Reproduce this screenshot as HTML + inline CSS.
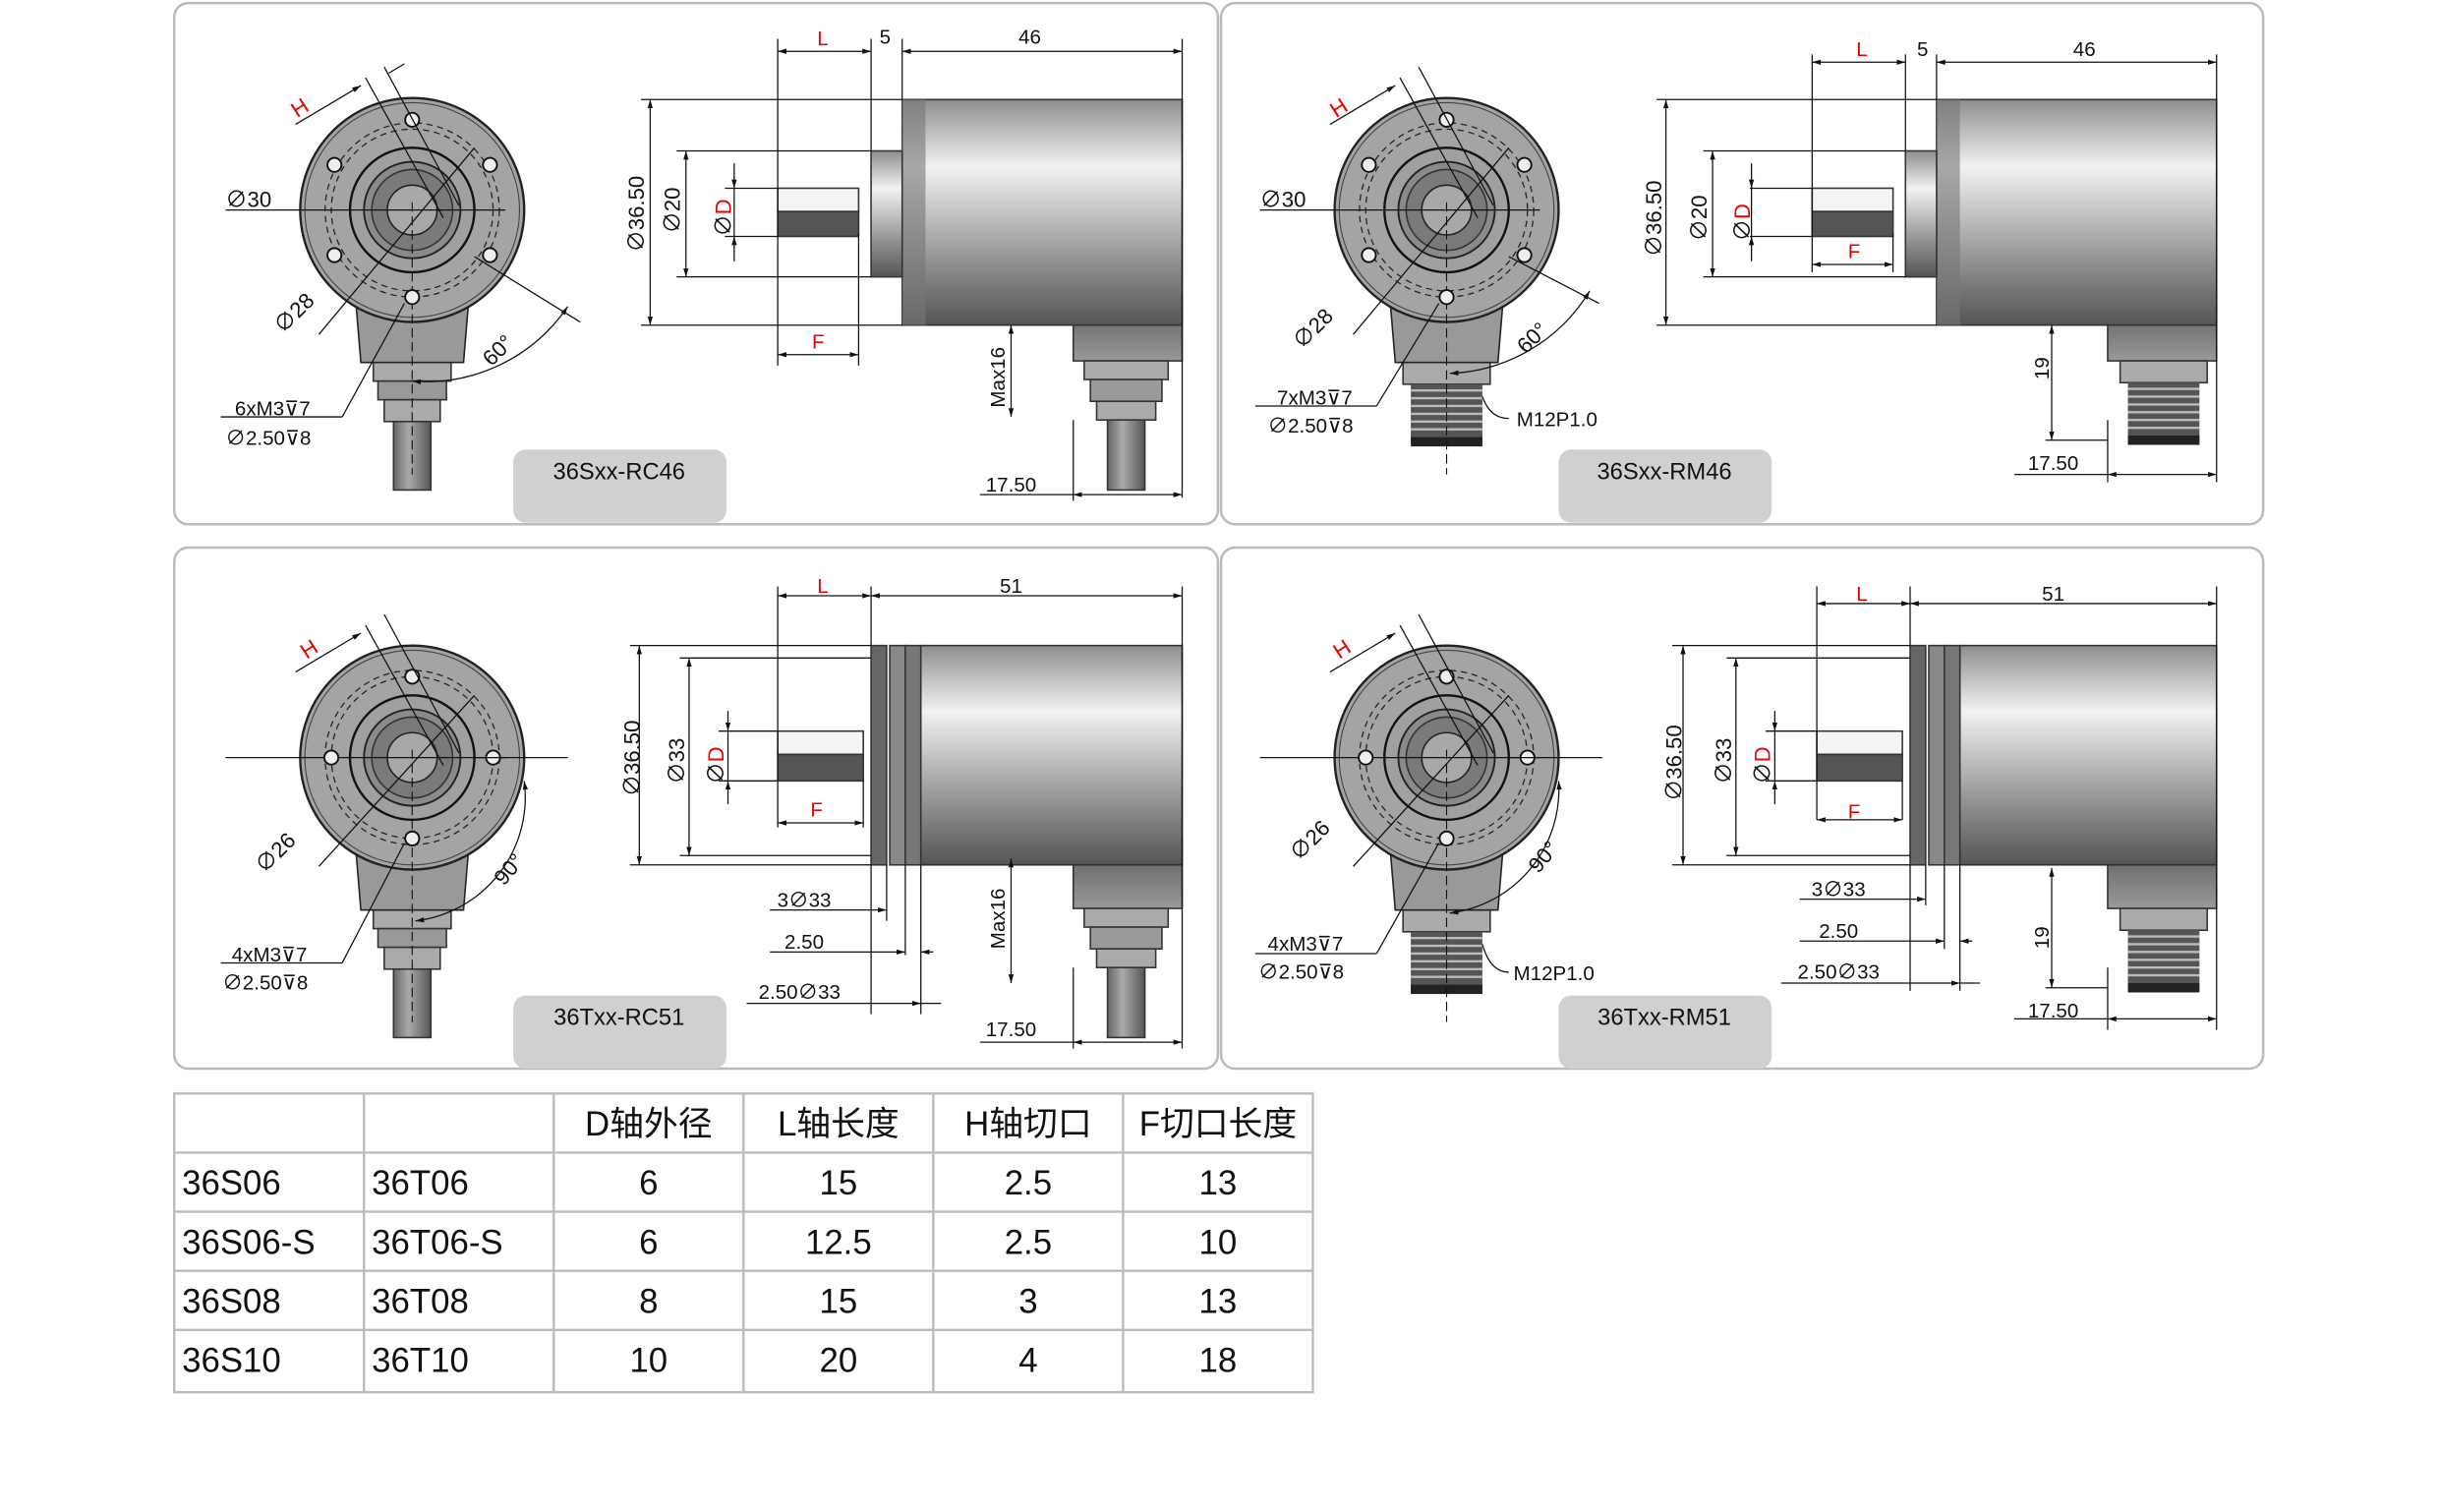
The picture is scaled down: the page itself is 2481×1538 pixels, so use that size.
<!DOCTYPE html>
<html><head><meta charset="utf-8"><style>
html,body{margin:0;padding:0;background:#fff}
svg{display:block}
text{font-family:"Liberation Sans","Noto Sans CJK SC",sans-serif;fill:#111}
</style></head><body>
<svg width="2481" height="1538" viewBox="0 0 1568 972" preserveAspectRatio="none" xmlns="http://www.w3.org/2000/svg">
<defs>
<linearGradient id="bg" x1="0" y1="0" x2="0" y2="1"><stop offset="0" stop-color="#8e8e8e"/><stop offset="0.3" stop-color="#f2f2f2"/><stop offset="0.75" stop-color="#8a8a8a"/><stop offset="1" stop-color="#555"/></linearGradient>
<linearGradient id="dk" x1="0" y1="0" x2="0" y2="1"><stop offset="0" stop-color="#555"/><stop offset="1" stop-color="#999"/></linearGradient>
<linearGradient id="cab" x1="0" y1="0" x2="1" y2="0"><stop offset="0" stop-color="#666"/><stop offset="0.4" stop-color="#aaa"/><stop offset="1" stop-color="#555"/></linearGradient>
<marker id="a" viewBox="0 0 10 10" refX="10" refY="5" markerWidth="7" markerHeight="7" orient="auto-start-reverse"><path d="M0,2 L10,5 L0,8z" fill="#111"/></marker>
<g id="frontBase">
 <path d="M-37,50 L-33,98 L33,98 L37,50z" fill="#999" stroke="#222"/>
 <circle r="72" fill="#a4a4a4" stroke="#222" stroke-width="1.5"/>
 <circle r="69" fill="none" stroke="#444" stroke-width="0.7"/>
 <circle r="52" fill="none" stroke="#222" stroke-dasharray="4,3" stroke-width="0.8"/>
 <circle r="56" fill="none" stroke="#222" stroke-dasharray="4,3" stroke-width="0.8"/>
 <circle r="40" fill="#a0a0a0" stroke="#111" stroke-width="1.5"/>
 <circle r="31" fill="#8a8a8a" stroke="#222" stroke-width="1.2"/>
 <circle r="26" fill="#7a7a7a" stroke="#333"/>
 <circle r="16" fill="#a8a8a8" stroke="#222"/>
 <line x1="-120" y1="0" x2="60" y2="0" stroke="#111" stroke-width="0.8"/>
 <line x1="0" y1="-5" x2="0" y2="170" stroke="#111" stroke-width="0.7" stroke-dasharray="6,3"/>
</g>
<g id="hole"><circle r="4.5" fill="#eee" stroke="#111" stroke-width="1.2"/></g>
<g id="gland">
 <rect x="-25" y="98" width="50" height="12" fill="#aaa" stroke="#333"/>
 <rect x="-22" y="110" width="44" height="12" fill="#999" stroke="#333"/>
 <rect x="-18" y="122" width="36" height="14" fill="#aaa" stroke="#333"/>
 <rect x="-12" y="136" width="24" height="44" fill="url(#cab)" stroke="#333"/>
</g>
<g id="m12">
 <rect x="-28" y="98" width="56" height="14" fill="#aaa" stroke="#333"/>
 <rect x="-23" y="112" width="46" height="38" fill="#555"/>
 <path d="M-23,116h46M-23,121h46M-23,126h46M-23,131h46M-23,136h46M-23,141h46" stroke="#bbb" stroke-width="1.5"/>
 <rect x="-23" y="146" width="46" height="6" fill="#222"/>
</g>
</defs>

<!-- panels -->
<g fill="#fff" stroke="#bbb" stroke-width="1.6">
<rect x="112" y="2" width="671" height="335" rx="9"/>
<rect x="785" y="2" width="670" height="335" rx="9"/>
<rect x="112" y="352" width="671" height="335" rx="9"/>
<rect x="785" y="352" width="670" height="335" rx="9"/>
</g>
<g fill="#d0d0d0">
<rect x="330" y="289" width="137" height="47" rx="8"/>
<rect x="1002" y="289" width="137" height="47" rx="8"/>
<rect x="330" y="640" width="137" height="47" rx="8"/>
<rect x="1002" y="640" width="137" height="47" rx="8"/>
</g>
<g font-size="15" text-anchor="middle">
<text x="398" y="308">36Sxx-RC46</text>
<text x="1070" y="308">36Sxx-RM46</text>
<text x="398" y="659">36Txx-RC51</text>
<text x="1070" y="659">36Txx-RM51</text>
</g>

<!-- ===== PANEL 1 ===== -->
<g id="p1">
<g transform="translate(265,135)">
 <use href="#gland"/>
 <use href="#frontBase"/>
 <use href="#hole" x="0" y="-58"/><use href="#hole" x="50" y="-29"/><use href="#hole" x="50" y="29"/><use href="#hole" x="0" y="56"/><use href="#hole" x="-50" y="29"/><use href="#hole" x="-50" y="-29"/>
 <line x1="-60" y1="80" x2="40" y2="-40" stroke="#111" stroke-width="0.8"/>
 <line x1="40" y1="30" x2="108" y2="72" stroke="#111" stroke-width="0.8"/>
 <path d="M100,62 A110,110 0 0 1 0,110" fill="none" stroke="#111" stroke-width="0.8" marker-start="url(#a)" marker-end="url(#a)"/>
 <line x1="-30" y1="-85" x2="20" y2="5" stroke="#111" stroke-width="0.8"/>
 <line x1="-18" y1="-92" x2="30" y2="-3" stroke="#111" stroke-width="0.8"/>
 <line x1="-75" y1="-55" x2="-33" y2="-80" stroke="#111" stroke-width="0.8" marker-end="url(#a)"/>
 <line x1="-15" y1="-88" x2="-5" y2="-94" stroke="#111" stroke-width="0.8"/>
 <line x1="-45" y1="133" x2="-5" y2="60" stroke="#111" stroke-width="0.8"/>
 <line x1="-123" y1="133" x2="-45" y2="133" stroke="#111" stroke-width="0.8"/>
</g>
<text x="145" y="133" font-size="14">∅30</text>
<text x="0" y="0" font-size="14" transform="translate(182,215) rotate(-45)">∅28</text>
<text x="0" y="0" font-size="14" transform="translate(316,236) rotate(-45)">60°</text>
<text x="0" y="0" font-size="14" fill="#e00" transform="translate(191,76) rotate(-33)" style="fill:#e00">H</text>
<text x="151" y="267" font-size="13">6xM3⊽7</text>
<text x="145" y="286" font-size="13">∅2.50⊽8</text>
<!-- side -->
<rect x="690" y="190" width="70" height="42" fill="url(#dk)" stroke="#333"/>
<g transform="translate(724,134)"><rect x="-27" y="98" width="54" height="12" fill="#aaa" stroke="#333"/><rect x="-23" y="110" width="46" height="14" fill="#999" stroke="#333"/><rect x="-19" y="124" width="38" height="12" fill="#aaa" stroke="#333"/><rect x="-12" y="136" width="24" height="45" fill="url(#cab)" stroke="#333"/></g>
<rect x="580" y="64" width="180" height="145" fill="url(#bg)" stroke="#333"/>
<rect x="580" y="64" width="15" height="145" fill="#777" opacity="0.6"/>
<rect x="560" y="97" width="20" height="81" fill="url(#bg)" stroke="#333"/>
<rect x="500" y="121" width="52" height="15" fill="#f4f4f4" stroke="#333"/>
<rect x="500" y="136" width="52" height="16" fill="#555" stroke="#333"/>
<g stroke="#111" stroke-width="0.8" fill="none">
 <path d="M500,25V235M560,25V97M580,25V64M760,25V320M552,150V235M412,64H580M412,209H580M435,97H560M435,178H560M466,121H500M466,152H500M690,270V322M630,318H690"/>
 <line x1="500" y1="33" x2="560" y2="33" marker-start="url(#a)" marker-end="url(#a)"/>
 <line x1="580" y1="33" x2="760" y2="33" marker-start="url(#a)" marker-end="url(#a)"/>
 <line x1="418" y1="64" x2="418" y2="209" marker-start="url(#a)" marker-end="url(#a)"/>
 <line x1="441" y1="97" x2="441" y2="178" marker-start="url(#a)" marker-end="url(#a)"/>
 <line x1="472" y1="105" x2="472" y2="121" marker-end="url(#a)"/>
 <line x1="472" y1="168" x2="472" y2="152" marker-end="url(#a)"/>
 <line x1="472" y1="121" x2="472" y2="152"/>
 <line x1="500" y1="228" x2="552" y2="228" marker-start="url(#a)" marker-end="url(#a)"/>
 <line x1="650" y1="209" x2="650" y2="268" marker-start="url(#a)" marker-end="url(#a)"/>
 <line x1="690" y1="318" x2="760" y2="318" marker-start="url(#a)" marker-end="url(#a)"/>
</g>
<text x="529" y="29" font-size="13" text-anchor="middle" style="fill:#e00">L</text>
<text x="569" y="28" font-size="13" text-anchor="middle">5</text>
<text x="662" y="28" font-size="13" text-anchor="middle">46</text>
<text x="526" y="224" font-size="13" text-anchor="middle" style="fill:#e00">F</text>
<text font-size="14" transform="translate(414,162) rotate(-90)">∅36.50</text>
<text font-size="14" transform="translate(437,150) rotate(-90)">∅20</text>
<text font-size="14" transform="translate(470,152) rotate(-90)">∅<tspan style="fill:#e00">D</tspan></text>
<text font-size="13" transform="translate(646,262) rotate(-90)">Max16</text>
<text x="650" y="316" font-size="13" text-anchor="middle">17.50</text>
</g>

<!-- ===== PANEL 2 ===== -->
<g transform="translate(665,0)">
<g transform="translate(265,135)">
 <use href="#m12"/>
 <use href="#frontBase"/>
 <use href="#hole" x="0" y="-58"/><use href="#hole" x="50" y="-29"/><use href="#hole" x="50" y="29"/><use href="#hole" x="0" y="56"/><use href="#hole" x="-50" y="29"/><use href="#hole" x="-50" y="-29"/>
 <line x1="-60" y1="80" x2="40" y2="-40" stroke="#111" stroke-width="0.8"/>
 <line x1="40" y1="30" x2="98" y2="60" stroke="#111" stroke-width="0.8"/>
 <path d="M92,52 A110,110 0 0 1 2,105" fill="none" stroke="#111" stroke-width="0.8" marker-start="url(#a)" marker-end="url(#a)"/>
 <line x1="-30" y1="-85" x2="20" y2="5" stroke="#111" stroke-width="0.8"/>
 <line x1="-18" y1="-92" x2="30" y2="-3" stroke="#111" stroke-width="0.8"/>
 <line x1="-75" y1="-55" x2="-33" y2="-80" stroke="#111" stroke-width="0.8" marker-end="url(#a)"/>
 <line x1="-45" y1="126" x2="-5" y2="60" stroke="#111" stroke-width="0.8"/>
 <line x1="-123" y1="126" x2="-45" y2="126" stroke="#111" stroke-width="0.8"/>
 <path d="M23,120 Q28,134 40,134" fill="none" stroke="#111" stroke-width="0.8"/>
</g>
<text x="145" y="133" font-size="14">∅30</text>
<text font-size="14" transform="translate(172,225) rotate(-45)">∅28</text>
<text font-size="14" transform="translate(316,228) rotate(-45)">60°</text>
<text font-size="14" transform="translate(194,76) rotate(-33)" style="fill:#e00">H</text>
<text x="156" y="260" font-size="13">7xM3⊽7</text>
<text x="150" y="278" font-size="13">∅2.50⊽8</text>
<text x="310" y="274" font-size="13">M12P1.0</text>
<rect x="690" y="190" width="70" height="42" fill="url(#dk)" stroke="#333"/>
<g transform="translate(726,134)"><use href="#m12"/></g>
<rect x="580" y="64" width="180" height="145" fill="url(#bg)" stroke="#333"/>
<rect x="580" y="64" width="15" height="145" fill="#777" opacity="0.6"/>
<rect x="560" y="97" width="20" height="81" fill="url(#bg)" stroke="#333"/>
<rect x="500" y="121" width="52" height="15" fill="#f4f4f4" stroke="#333"/>
<rect x="500" y="136" width="52" height="16" fill="#555" stroke="#333"/>
<g stroke="#111" stroke-width="0.8" fill="none">
 <path d="M500,35V175M560,35V97M580,35V64M760,35V310M552,150V175M400,64H580M400,209H580M430,97H560M430,178H560M460,121H500M460,152H500M690,270V310M630,305H690M650,283H690"/>
 <line x1="500" y1="40" x2="560" y2="40" marker-start="url(#a)" marker-end="url(#a)"/>
 <line x1="580" y1="40" x2="760" y2="40" marker-start="url(#a)" marker-end="url(#a)"/>
 <line x1="406" y1="64" x2="406" y2="209" marker-start="url(#a)" marker-end="url(#a)"/>
 <line x1="436" y1="97" x2="436" y2="178" marker-start="url(#a)" marker-end="url(#a)"/>
 <line x1="461" y1="105" x2="461" y2="121" marker-end="url(#a)"/>
 <line x1="461" y1="168" x2="461" y2="152" marker-end="url(#a)"/>
 <line x1="461" y1="121" x2="461" y2="152"/>
 <line x1="500" y1="170" x2="552" y2="170" marker-start="url(#a)" marker-end="url(#a)"/>
 <line x1="654" y1="209" x2="654" y2="283" marker-start="url(#a)" marker-end="url(#a)"/>
 <line x1="690" y1="305" x2="760" y2="305" marker-start="url(#a)" marker-end="url(#a)"/>
</g>
<text x="532" y="36" font-size="13" text-anchor="middle" style="fill:#e00">L</text>
<text x="571" y="36" font-size="13" text-anchor="middle">5</text>
<text x="675" y="36" font-size="13" text-anchor="middle">46</text>
<text x="527" y="166" font-size="13" text-anchor="middle" style="fill:#e00">F</text>
<text font-size="14" transform="translate(403,165) rotate(-90)">∅36.50</text>
<text font-size="14" transform="translate(432,155) rotate(-90)">∅20</text>
<text font-size="14" transform="translate(460,155) rotate(-90)">∅<tspan style="fill:#e00">D</tspan></text>
<text font-size="13" transform="translate(652,244) rotate(-90)">19</text>
<text x="655" y="302" font-size="13" text-anchor="middle">17.50</text>
</g>

<!-- ===== PANEL 3 ===== -->
<g transform="translate(0,352)">
<g transform="translate(265,135)">
 <use href="#gland"/>
 <use href="#frontBase"/>
 <use href="#hole" x="0" y="-52"/><use href="#hole" x="52" y="0"/><use href="#hole" x="0" y="52"/><use href="#hole" x="-52" y="0"/>
 <line x1="-60" y1="70" x2="40" y2="-40" stroke="#111" stroke-width="0.8"/>
 <line x1="40" y1="0" x2="100" y2="0" stroke="#111" stroke-width="0.8"/>
 <path d="M72,15 A80,80 0 0 1 2,105" fill="none" stroke="#111" stroke-width="0.8" marker-start="url(#a)" marker-end="url(#a)"/>
 <line x1="-30" y1="-85" x2="20" y2="5" stroke="#111" stroke-width="0.8"/>
 <line x1="-18" y1="-92" x2="30" y2="-3" stroke="#111" stroke-width="0.8"/>
 <line x1="-75" y1="-55" x2="-33" y2="-80" stroke="#111" stroke-width="0.8" marker-end="url(#a)"/>
 <line x1="-45" y1="132" x2="-5" y2="55" stroke="#111" stroke-width="0.8"/>
 <line x1="-123" y1="132" x2="-45" y2="132" stroke="#111" stroke-width="0.8"/>
</g>
<text font-size="14" transform="translate(170,210) rotate(-45)">∅26</text>
<text font-size="14" transform="translate(324,218) rotate(-50)">90°</text>
<text font-size="14" transform="translate(197,72) rotate(-33)" style="fill:#e00">H</text>
<text x="149" y="266" font-size="13">4xM3⊽7</text>
<text x="143" y="284" font-size="13">∅2.50⊽8</text>
<rect x="690" y="186" width="70" height="46" fill="url(#dk)" stroke="#333"/>
<g transform="translate(724,134)"><rect x="-27" y="98" width="54" height="12" fill="#aaa" stroke="#333"/><rect x="-23" y="110" width="46" height="14" fill="#999" stroke="#333"/><rect x="-19" y="124" width="38" height="12" fill="#aaa" stroke="#333"/><rect x="-12" y="136" width="24" height="45" fill="url(#cab)" stroke="#333"/></g>
<rect x="592" y="63" width="168" height="141" fill="url(#bg)" stroke="#333"/>
<rect x="560" y="63" width="10" height="141" fill="#666" stroke="#333"/>
<rect x="572" y="63" width="10" height="141" fill="#888" stroke="#333"/>
<rect x="582" y="63" width="10" height="141" fill="#777" stroke="#333"/>
<rect x="500" y="118" width="55" height="15" fill="#f4f4f4" stroke="#333"/>
<rect x="500" y="133" width="55" height="17" fill="#555" stroke="#333"/>
<g stroke="#111" stroke-width="0.8" fill="none">
 <path d="M500,25V180M560,25V63M760,25V322M555,150V180M405,63H560M405,204H560M437,71H560M437,198H560M462,118H500M462,150H500M560,204V300M570,204V240M582,204V262M592,204V300M690,270V322M630,318H690"/>
 <line x1="500" y1="31" x2="560" y2="31" marker-start="url(#a)" marker-end="url(#a)"/>
 <line x1="560" y1="31" x2="760" y2="31" marker-start="url(#a)" marker-end="url(#a)"/>
 <line x1="411" y1="63" x2="411" y2="204" marker-start="url(#a)" marker-end="url(#a)"/>
 <line x1="443" y1="71" x2="443" y2="198" marker-start="url(#a)" marker-end="url(#a)"/>
 <line x1="468" y1="105" x2="468" y2="118" marker-end="url(#a)"/>
 <line x1="468" y1="165" x2="468" y2="150" marker-end="url(#a)"/>
 <line x1="468" y1="118" x2="468" y2="150"/>
 <line x1="500" y1="177" x2="555" y2="177" marker-start="url(#a)" marker-end="url(#a)"/>
 <line x1="495" y1="233" x2="570" y2="233" marker-end="url(#a)"/>
 <line x1="495" y1="260" x2="582" y2="260" marker-end="url(#a)"/><line x1="600" y1="260" x2="592" y2="260" marker-end="url(#a)"/>
 <line x1="480" y1="293" x2="592" y2="293" marker-end="url(#a)"/><line x1="605" y1="293" x2="592" y2="293"/>
 <line x1="650" y1="200" x2="650" y2="280" marker-start="url(#a)" marker-end="url(#a)"/>
 <line x1="690" y1="318" x2="760" y2="318" marker-start="url(#a)" marker-end="url(#a)"/>
</g>
<text x="529" y="29" font-size="13" text-anchor="middle" style="fill:#e00">L</text>
<text x="650" y="29" font-size="13" text-anchor="middle">51</text>
<text x="525" y="173" font-size="13" text-anchor="middle" style="fill:#e00">F</text>
<text font-size="14" transform="translate(411,160) rotate(-90)">∅36.50</text>
<text font-size="14" transform="translate(440,152) rotate(-90)">∅33</text>
<text font-size="14" transform="translate(465,152) rotate(-90)">∅<tspan style="fill:#e00">D</tspan></text>
<text x="517" y="231" font-size="13" text-anchor="middle">3∅33</text>
<text x="517" y="258" font-size="13" text-anchor="middle">2.50</text>
<text x="514" y="290" font-size="13" text-anchor="middle">2.50∅33</text>
<text font-size="13" transform="translate(646,258) rotate(-90)">Max16</text>
<text x="650" y="314" font-size="13" text-anchor="middle">17.50</text>
</g>

<!-- ===== PANEL 4 ===== -->
<g transform="translate(665,352)">
<g transform="translate(265,135)">
 <use href="#m12"/>
 <use href="#frontBase"/>
 <use href="#hole" x="0" y="-52"/><use href="#hole" x="52" y="0"/><use href="#hole" x="0" y="52"/><use href="#hole" x="-52" y="0"/>
 <line x1="-60" y1="70" x2="40" y2="-40" stroke="#111" stroke-width="0.8"/>
 <line x1="40" y1="0" x2="100" y2="0" stroke="#111" stroke-width="0.8"/>
 <path d="M72,15 A80,80 0 0 1 2,100" fill="none" stroke="#111" stroke-width="0.8" marker-start="url(#a)" marker-end="url(#a)"/>
 <line x1="-30" y1="-85" x2="20" y2="5" stroke="#111" stroke-width="0.8"/>
 <line x1="-18" y1="-92" x2="30" y2="-3" stroke="#111" stroke-width="0.8"/>
 <line x1="-75" y1="-55" x2="-33" y2="-80" stroke="#111" stroke-width="0.8" marker-end="url(#a)"/>
 <line x1="-45" y1="126" x2="-5" y2="55" stroke="#111" stroke-width="0.8"/>
 <line x1="-123" y1="126" x2="-45" y2="126" stroke="#111" stroke-width="0.8"/>
 <path d="M23,120 Q28,138 40,138" fill="none" stroke="#111" stroke-width="0.8"/>
</g>
<text font-size="14" transform="translate(170,202) rotate(-45)">∅26</text>
<text font-size="14" transform="translate(324,210) rotate(-50)">90°</text>
<text font-size="14" transform="translate(196,72) rotate(-33)" style="fill:#e00">H</text>
<text x="150" y="259" font-size="13">4xM3⊽7</text>
<text x="144" y="277" font-size="13">∅2.50⊽8</text>
<text x="308" y="278" font-size="13">M12P1.0</text>
<rect x="690" y="186" width="70" height="46" fill="url(#dk)" stroke="#333"/>
<g transform="translate(726,134)"><use href="#m12"/></g>
<rect x="595" y="63" width="165" height="141" fill="url(#bg)" stroke="#333"/>
<rect x="563" y="63" width="10" height="141" fill="#666" stroke="#333"/>
<rect x="575" y="63" width="10" height="141" fill="#888" stroke="#333"/>
<rect x="585" y="63" width="10" height="141" fill="#777" stroke="#333"/>
<rect x="503" y="118" width="55" height="15" fill="#f4f4f4" stroke="#333"/>
<rect x="503" y="133" width="55" height="17" fill="#555" stroke="#333"/>
<g stroke="#111" stroke-width="0.8" fill="none">
 <path d="M503,25V175M563,25V63M760,25V310M558,150V175M410,63H563M410,204H563M445,71H563M445,198H563M470,118H503M470,150H503M563,204V285M573,204V230M585,204V258M595,204V285M690,270V310M630,303H690M650,283H690"/>
 <line x1="503" y1="36" x2="563" y2="36" marker-start="url(#a)" marker-end="url(#a)"/>
 <line x1="563" y1="36" x2="760" y2="36" marker-start="url(#a)" marker-end="url(#a)"/>
 <line x1="417" y1="63" x2="417" y2="204" marker-start="url(#a)" marker-end="url(#a)"/>
 <line x1="451" y1="71" x2="451" y2="198" marker-start="url(#a)" marker-end="url(#a)"/>
 <line x1="476" y1="105" x2="476" y2="118" marker-end="url(#a)"/>
 <line x1="476" y1="165" x2="476" y2="150" marker-end="url(#a)"/>
 <line x1="476" y1="118" x2="476" y2="150"/>
 <line x1="503" y1="175" x2="558" y2="175" marker-start="url(#a)" marker-end="url(#a)"/>
 <line x1="492" y1="226" x2="573" y2="226" marker-end="url(#a)"/>
 <line x1="492" y1="253" x2="585" y2="253" marker-end="url(#a)"/><line x1="603" y1="253" x2="595" y2="253" marker-end="url(#a)"/>
 <line x1="480" y1="280" x2="595" y2="280" marker-end="url(#a)"/><line x1="608" y1="280" x2="595" y2="280"/>
 <line x1="654" y1="206" x2="654" y2="283" marker-start="url(#a)" marker-end="url(#a)"/>
 <line x1="690" y1="303" x2="760" y2="303" marker-start="url(#a)" marker-end="url(#a)"/>
</g>
<text x="532" y="34" font-size="13" text-anchor="middle" style="fill:#e00">L</text>
<text x="655" y="34" font-size="13" text-anchor="middle">51</text>
<text x="527" y="174" font-size="13" text-anchor="middle" style="fill:#e00">F</text>
<text font-size="14" transform="translate(416,163) rotate(-90)">∅36.50</text>
<text font-size="14" transform="translate(448,152) rotate(-90)">∅33</text>
<text font-size="14" transform="translate(473,152) rotate(-90)">∅<tspan style="fill:#e00">D</tspan></text>
<text x="517" y="224" font-size="13" text-anchor="middle">3∅33</text>
<text x="517" y="251" font-size="13" text-anchor="middle">2.50</text>
<text x="517" y="277" font-size="13" text-anchor="middle">2.50∅33</text>
<text font-size="13" transform="translate(652,258) rotate(-90)">19</text>
<text x="655" y="302" font-size="13" text-anchor="middle">17.50</text>
</g>

<!-- ===== TABLE ===== -->
<g stroke="#bbb" stroke-width="1.5" fill="none">
<rect x="112" y="703" width="732" height="192"/>
<path d="M112,741H844M112,779H844M112,817H844M112,855H844M234,703V895M356,703V895M478,703V895M600,703V895M722,703V895"/>
</g>
<g font-size="22" text-anchor="middle">
<text x="417" y="730">D轴外径</text><text x="539" y="730">L轴长度</text><text x="661" y="730">H轴切口</text><text x="783" y="730">F切口长度</text>
<text x="417" y="768">6</text><text x="539" y="768">15</text><text x="661" y="768">2.5</text><text x="783" y="768">13</text>
<text x="417" y="806">6</text><text x="539" y="806">12.5</text><text x="661" y="806">2.5</text><text x="783" y="806">10</text>
<text x="417" y="844">8</text><text x="539" y="844">15</text><text x="661" y="844">3</text><text x="783" y="844">13</text>
<text x="417" y="882">10</text><text x="539" y="882">20</text><text x="661" y="882">4</text><text x="783" y="882">18</text>
</g>
<g font-size="22">
<text x="117" y="768">36S06</text><text x="239" y="768">36T06</text>
<text x="117" y="806">36S06-S</text><text x="239" y="806">36T06-S</text>
<text x="117" y="844">36S08</text><text x="239" y="844">36T08</text>
<text x="117" y="882">36S10</text><text x="239" y="882">36T10</text>
</g>
</svg>
</body></html>
